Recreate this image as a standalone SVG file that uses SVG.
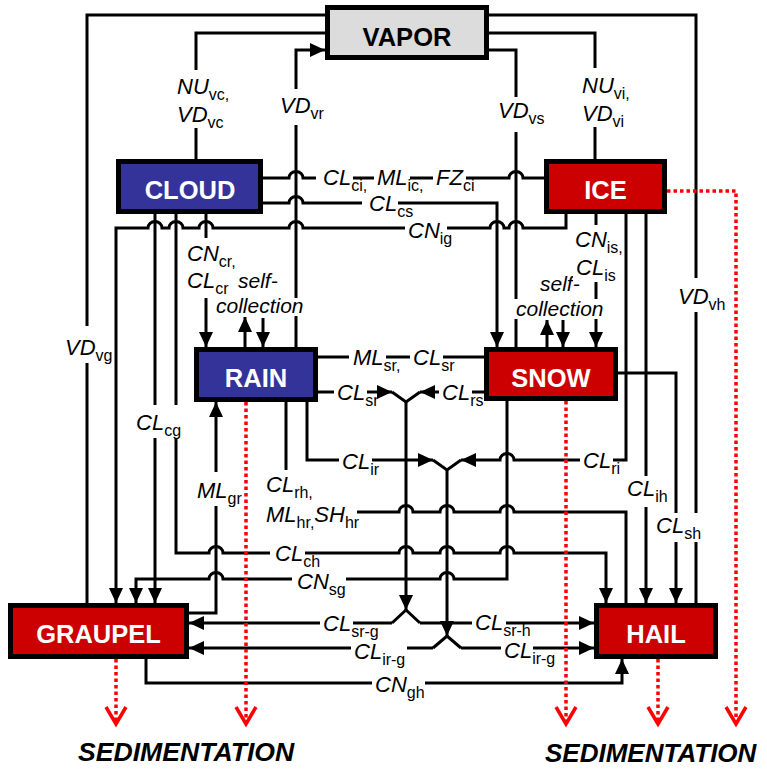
<svg xmlns="http://www.w3.org/2000/svg" width="767" height="769" viewBox="0 0 767 769">
<style>
.ln{fill:none;stroke:#000;stroke-width:3}
.ar{marker-end:url(#ah)}
.sed{fill:none;stroke:#f00;stroke-width:3.5;stroke-dasharray:3.5 3;marker-end:url(#sa)}
.box{stroke:#000;stroke-width:5}
.bt{font-family:"Liberation Sans",Arial,sans-serif;font-weight:bold;font-size:25.5px;fill:#fff;text-anchor:middle}
.l{font-family:"Liberation Sans",Arial,sans-serif;font-style:italic;font-size:22px;fill:#000}
.s{font-style:normal;font-size:16px}
.sc{font-size:21px}
.bg{fill:#fff}
.st{font-family:"Liberation Sans",Arial,sans-serif;font-style:italic;font-weight:bold;font-size:26.6px;fill:#000}
</style>
<defs>
<marker id="ah" markerUnits="userSpaceOnUse" markerWidth="16" markerHeight="15" refX="15" refY="7" orient="auto" overflow="visible"><path d="M0,0 L15,7 L0,14 z" fill="#000"/></marker>
<marker id="sa" markerUnits="userSpaceOnUse" markerWidth="20" markerHeight="22" refX="17" refY="10" orient="auto" overflow="visible"><path d="M0,0 L17,10 L0,20" fill="none" stroke="#f00" stroke-width="3.5"/></marker>
</defs>
<rect width="767" height="769" fill="#fff"/>
<g id="connectors">
<path class="ln" d="M325,15 H87 V603"/>
<path class="ln" d="M325,33 H196 V159"/>
<path class="ln ar" d="M296,347 V50 H325"/>
<path class="ln" d="M489,15 H696 V603"/>
<path class="ln" d="M489,33 H595 V159"/>
<path class="ln" d="M489,50 H516 V347"/>
<path class="ln" d="M263,178 H289 A7,6.5 0 0 1 303,178 H509 A7,6.5 0 0 1 523,178 H544"/>
<path class="ln ar" d="M263,203 H289 A7,6.5 0 0 1 303,203 H497 V347"/>
<path class="ln ar" d="M566,214 V228 H523 A7,6.5 0 0 0 509,228 H504 A7,6.5 0 0 0 490,228 H303 A7,6.5 0 0 0 289,228 H213 A7,6.5 0 0 0 199,228 H183 A7,6.5 0 0 0 169,228 H162 A7,6.5 0 0 0 148,228 H116 V603"/>
<path class="ln ar" d="M155,214 V603"/>
<path class="ln ar" d="M176,214 V553 H209 A7,6.5 0 0 1 223,553 H399 A7,6.5 0 0 1 413,553 H440 A7,6.5 0 0 1 454,553 H500 A7,6.5 0 0 1 514,553 H606 V603"/>
<path class="ln ar" d="M206,214 V347"/>
<path class="ln ar" d="M245,347 V317"/>
<path class="ln ar" d="M263,318 V347"/>
<path class="ln ar" d="M547,347 V320"/>
<path class="ln ar" d="M563,320 V347"/>
<path class="ln ar" d="M596,214 V347"/>
<path class="ln" d="M318,357 H484"/>
<path class="ln ar" d="M318,392 H392"/>
<path class="ln ar" d="M484,392 H420"/>
<path class="ln" d="M392,392 L406,402 L420,392"/>
<path class="ln ar" d="M406,402 V610"/>
<path class="ln ar" d="M307,402 V460 H433"/>
<path class="ln ar" d="M626,214 V460 H514 A7,6.5 0 0 0 500,460 H461"/>
<path class="ln" d="M433,460 L447,470 L461,460"/>
<path class="ln ar" d="M447,470 V636"/>
<path class="ln" d="M392,623 L406,610 L420,623"/>
<path class="ln ar" d="M392,623 H189"/>
<path class="ln ar" d="M420,623 H594"/>
<path class="ln" d="M433,648 L447,636 L461,648"/>
<path class="ln ar" d="M433,648 H189"/>
<path class="ln ar" d="M461,648 H594"/>
<path class="ln" d="M286,402 V512 H399 A7,6.5 0 0 1 413,512 H440 A7,6.5 0 0 1 454,512 H500 A7,6.5 0 0 1 514,512 H626 V603"/>
<path class="ln ar" d="M507,401 V579 H454 A7,6.5 0 0 0 440,579 H223 A7,6.5 0 0 0 209,579 H136 V603"/>
<path class="ln ar" d="M189,613 H216 V402"/>
<path class="ln ar" d="M646,214 V603"/>
<path class="ln ar" d="M618,373 H676 V603"/>
<path class="ln ar" d="M146,659 V683 H622 V659"/>
</g>
<g id="labels">
<rect class="bg" x="175" y="70" width="37" height="58"/>
<text class="l" x="177" y="94">NU<tspan class="s" dy="6">vc,</tspan></text>
<text class="l" x="177" y="122">VD<tspan class="s" dy="6">vc</tspan></text>
<rect class="bg" x="278" y="89" width="36" height="36"/>
<text class="l" x="280" y="113">VD<tspan class="s" dy="6">vr</tspan></text>
<rect class="bg" x="496" y="97" width="36" height="35"/>
<text class="l" x="498" y="118">VD<tspan class="s" dy="6">vs</tspan></text>
<rect class="bg" x="580" y="68" width="37" height="59"/>
<text class="l" x="582" y="93">NU<tspan class="s" dy="6">vi,</tspan></text>
<text class="l" x="582" y="121">VD<tspan class="s" dy="6">vi</tspan></text>
<rect class="bg" x="316" y="167" width="37" height="19"/>
<text class="l" x="323" y="185">CL<tspan class="s" dy="6">ci,</tspan></text>
<rect class="bg" x="374" y="167" width="36" height="19"/>
<text class="l" x="377" y="185">ML<tspan class="s" dy="6">ic,</tspan></text>
<rect class="bg" x="433" y="167" width="33" height="19"/>
<text class="l" x="436" y="185">FZ<tspan class="s" dy="6">ci</tspan></text>
<rect class="bg" x="362" y="193" width="36" height="19"/>
<text class="l" x="369" y="211">CL<tspan class="s" dy="6">cs</tspan></text>
<rect class="bg" x="405" y="220" width="42" height="19"/>
<text class="l" x="408" y="238">CN<tspan class="s" dy="6">ig</tspan></text>
<rect class="bg" x="185" y="238" width="36" height="60"/>
<text class="l" x="187" y="261">CN<tspan class="s" dy="6">cr,</tspan></text>
<text class="l" x="187" y="288">CL<tspan class="s" dy="6">cr</tspan></text>
<text class="l sc" x="238" y="288">self-</text>
<rect class="bg" x="288" y="298" width="17" height="18"/>
<text class="l sc" x="216" y="313">collection</text>
<text class="l sc" x="540" y="291">self-</text>
<rect class="bg" x="510" y="299" width="12" height="20"/>
<rect class="bg" x="590" y="299" width="12" height="20"/>
<text class="l sc" x="516" y="316">collection</text>
<rect class="bg" x="573" y="225" width="38" height="57"/>
<text class="l" x="575" y="247">CN<tspan class="s" dy="6">is,</tspan></text>
<text class="l" x="576" y="275">CL<tspan class="s" dy="6">is</tspan></text>
<rect class="bg" x="676" y="278" width="36" height="34"/>
<text class="l" x="678" y="304">VD<tspan class="s" dy="6">vh</tspan></text>
<rect class="bg" x="63" y="326" width="37" height="37"/>
<text class="l" x="65" y="355">VD<tspan class="s" dy="6">vg</tspan></text>
<rect class="bg" x="134" y="405" width="50" height="33"/>
<text class="l" x="136" y="430">CL<tspan class="s" dy="6">cg</tspan></text>
<rect class="bg" x="349" y="346" width="37" height="20"/>
<text class="l" x="353" y="365">ML<tspan class="s" dy="6">sr,</tspan></text>
<rect class="bg" x="410" y="346" width="33" height="20"/>
<text class="l" x="413" y="365">CL<tspan class="s" dy="6">sr</tspan></text>
<rect class="bg" x="334" y="382" width="33" height="19"/>
<text class="l" x="337" y="400">CL<tspan class="s" dy="6">sr</tspan></text>
<rect class="bg" x="439" y="382" width="33" height="19"/>
<text class="l" x="442" y="400">CL<tspan class="s" dy="6">rs</tspan></text>
<rect class="bg" x="339" y="450" width="33" height="20"/>
<text class="l" x="342" y="469">CL<tspan class="s" dy="6">ir</tspan></text>
<rect class="bg" x="580" y="450" width="33" height="19"/>
<text class="l" x="583" y="468">CL<tspan class="s" dy="6">ri</tspan></text>
<rect class="bg" x="625" y="476" width="45" height="31"/>
<text class="l" x="627" y="496">CL<tspan class="s" dy="6">ih</tspan></text>
<rect class="bg" x="654" y="513" width="50" height="29"/>
<text class="l" x="656" y="533">CL<tspan class="s" dy="6">sh</tspan></text>
<rect class="bg" x="195" y="472" width="37" height="34"/>
<text class="l" x="197" y="498">ML<tspan class="s" dy="6">gr</tspan></text>
<rect class="bg" x="264" y="470" width="93" height="58"/>
<text class="l" x="266" y="492">CL<tspan class="s" dy="6">rh,</tspan></text>
<text class="l" x="266" y="522">ML<tspan class="s" dy="6">hr,</tspan><tspan dy="-6">SH</tspan><tspan class="s" dy="6">hr</tspan></text>
<rect class="bg" x="270" y="543" width="35" height="20"/>
<text class="l" x="275" y="561">CL<tspan class="s" dy="6">ch</tspan></text>
<rect class="bg" x="292" y="572" width="54" height="24"/>
<text class="l" x="297" y="589">CN<tspan class="s" dy="6">sg</tspan></text>
<rect class="bg" x="320" y="612" width="33" height="20"/>
<text class="l" x="323" y="631">CL<tspan class="s" dy="6">sr-g</tspan></text>
<rect class="bg" x="351" y="642" width="56" height="23"/>
<text class="l" x="354" y="659">CL<tspan class="s" dy="6">ir-g</tspan></text>
<rect class="bg" x="372" y="673" width="53" height="26"/>
<text class="l" x="375" y="692">CN<tspan class="s" dy="6">gh</tspan></text>
<rect class="bg" x="472" y="613" width="34" height="19"/>
<text class="l" x="475" y="630">CL<tspan class="s" dy="6">sr-h</tspan></text>
<rect class="bg" x="501" y="641" width="32" height="17"/>
<text class="l" x="504" y="658">CL<tspan class="s" dy="6">ir-g</tspan></text>
</g>
<g id="vapor"><rect class="box" x="327.5" y="7.5" width="159" height="50" fill="#dcdcdc"/><text class="bt" x="407" y="46" style="fill:#000">VAPOR</text></g>
<g id="cloud"><rect class="box" x="118.5" y="161.5" width="142" height="50" fill="#333399"/><text class="bt" x="190" y="199">CLOUD</text></g>
<g id="ice"><rect class="box" x="546.5" y="161.5" width="118" height="50" fill="#cc0000"/><text class="bt" x="605.5" y="199">ICE</text></g>
<g id="rain"><rect class="box" x="196.5" y="349.5" width="119" height="50" fill="#333399"/><text class="bt" x="256" y="387">RAIN</text></g>
<g id="snow"><rect class="box" x="486.5" y="349.5" width="129" height="49" fill="#cc0000"/><text class="bt" x="551" y="387">SNOW</text></g>
<g id="graupel"><rect class="box" x="10.5" y="605.5" width="176" height="51" fill="#cc0000"/><text class="bt" x="98.5" y="643">GRAUPEL</text></g>
<g id="hail"><rect class="box" x="596.5" y="605.5" width="119" height="51" fill="#cc0000"/><text class="bt" x="656" y="643">HAIL</text></g>
<g id="sedimentation">
<path class="sed" d="M116,659 V724"/>
<path class="sed" d="M246,402 V724"/>
<path class="sed" d="M566,401 V724"/>
<path class="sed" d="M658,659 V724"/>
<path class="sed" d="M667,191 H736 V724"/>
<text class="st" x="78" y="761">SEDIMENTATION</text>
<text class="st" x="545" y="762" style="font-size:26px">SEDIMENTATION</text>
</g>
</svg>
